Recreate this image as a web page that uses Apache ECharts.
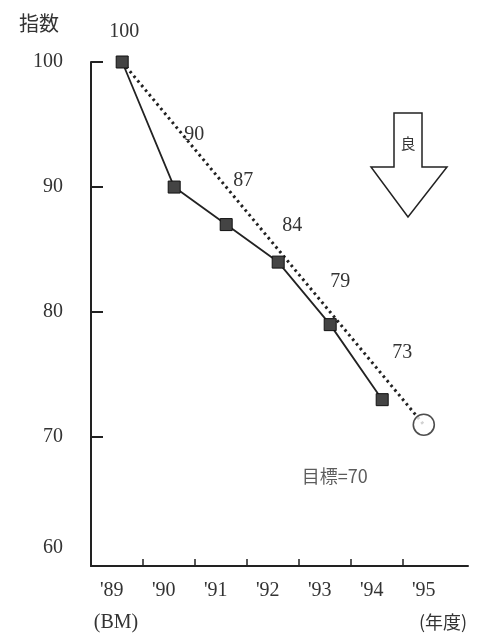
<!DOCTYPE html>
<html><head><meta charset="utf-8">
<script src="https://cdn.jsdelivr.net/npm/echarts@6/dist/echarts.min.js"></script>
<style>html,body{margin:0;padding:0;background:#fff}#c{width:481px;height:635px}</style>
</head><body><div id="c"></div>
<script>
// ---- data ----
const categories = ["'89", "'90", "'91", "'92", "'93", "'94", "'95"];
const subLabels = ["(BM)", "(年度)"];
const actualX = [0.2, 1.2, 2.2, 3.2, 4.2, 5.2];
const actualValues = [100, 90, 87, 84, 79, 73];
const actualLabels = ["100", "90", "87", "84", "79", "73"];
const targetX = 6;
const targetValue = 71;
const targetLabel = "目標=70";
const yTickLabels = [60, 70, 80, 90, 100];
const yTickMarks = [70, 80, 90, 100];
const xTickMarks = [0.6, 1.6, 2.6, 3.6, 4.6, 5.6];
const xLabelPos = [0, 1, 2, 3, 4, 5, 6];
const subLabelPos = [0.08, 6.37];

// ---- style ----
const labelOffsets = [[2, -30], [20, -52], [17, -44], [14, -36], [10, -43], [20, -47]];
const serif = "Liberation Serif";
const cjk = "Noto Sans CJK JP";
const ink = "#222";

const chart = echarts.init(document.getElementById('c'), null, {renderer: 'canvas'});
const actualData = actualValues.map((v, i) => ({
  value: [actualX[i], v],
  label: {show: true, position: 'inside', offset: labelOffsets[i], formatter: actualLabels[i],
          color: '#333', fontFamily: serif, fontSize: 20}
}));

chart.setOption({
  animation: false,
  backgroundColor: '#fff',
  title: {text: '指数', left: 14, top: 8,
    textStyle: {fontFamily: cjk, fontSize: 20, fontWeight: 'normal', color: '#333'}},
  grid: {left: 91, right: 13, top: 62, bottom: 69, outerBoundsMode: 'none', containLabel: false},
  xAxis: [{
    type: 'value', min: -0.4, max: 6.85,
    splitLine: {show: false},
    axisLine: {show: true, onZero: false, lineStyle: {color: ink, width: 2}},
    axisTick: {show: true, inside: true, length: 7, customValues: xTickMarks, lineStyle: {color: ink, width: 1.5}},
    axisLabel: {
      customValues: xLabelPos, margin: 15, color: '#333', fontFamily: serif, fontSize: 20,
      hideOverlap: false, showMaxLabel: true, showMinLabel: true,
      formatter: function (v) { return categories[Math.round(v)]; }
    }
  }, {
    type: 'value', min: -0.4, max: 6.85, position: 'bottom',
    splitLine: {show: false},
    axisLine: {show: false, onZero: false},
    axisTick: {show: false},
    axisLabel: {
      customValues: subLabelPos, margin: 47, color: '#333', fontSize: 20,
      hideOverlap: false, showMaxLabel: true, showMinLabel: true,
      formatter: function (v) { return v < 3 ? '{s|' + subLabels[0] + '}' : '{c|' + subLabels[1] + '}'; },
      rich: {
        s: {fontFamily: serif, fontSize: 20, color: '#333'},
        c: {fontFamily: cjk, fontSize: 18, color: '#333'}
      }
    }
  }],
  yAxis: {
    type: 'value', min: 59.7, max: 100,
    splitLine: {show: false},
    axisLine: {show: true, onZero: false, lineStyle: {color: ink, width: 2}},
    axisTick: {show: true, inside: true, length: 12, customValues: yTickMarks, lineStyle: {color: ink, width: 2}},
    axisLabel: {
      customValues: yTickLabels, margin: 28, color: '#333', fontFamily: serif, fontSize: 20,
      showMaxLabel: true, showMinLabel: true,
      formatter: function (v) { return v === 60 ? '{up|60}' : String(v); },
      rich: {up: {fontFamily: serif, fontSize: 20, color: '#333', padding: [0, 0, 28, 0]}}
    }
  },
  series: [
    {
      type: 'line', z: 1, symbol: 'none', silent: true,
      data: [[actualX[0], actualValues[0]], [targetX, targetValue]],
      lineStyle: {color: ink, width: 3, type: [2.5, 3.5]}
    },
    {
      type: 'line', z: 3, symbol: 'rect', symbolSize: 12,
      itemStyle: {color: '#444', borderColor: '#111', borderWidth: 1},
      lineStyle: {color: ink, width: 1.8},
      data: actualData
    },
    {
      type: 'scatter', z: 4, symbol: 'circle', symbolSize: 21,
      itemStyle: {color: '#fff', borderColor: ink, borderWidth: 1.6},
      data: [{value: [targetX, targetValue],
        label: {show: true, position: 'inside', offset: [-89, 51], formatter: targetLabel,
                color: '#333', fontFamily: cjk, fontSize: 18}}]
    }
  ],
  graphic: [
    {type: 'polygon', z: 10,
     shape: {points: [[394,113],[422,113],[422,167],[447,167],[408,217],[371,167],[394,167]]},
     style: {fill: '#fff', stroke: ink, lineWidth: 1.5}},
    {type: 'text', z: 11, x: 408, y: 143,
     style: {text: '良', fill: '#333', font: '15px "Noto Sans CJK JP"', align: 'center', verticalAlign: 'middle'}}
  ]
});
</script>
</body></html>
